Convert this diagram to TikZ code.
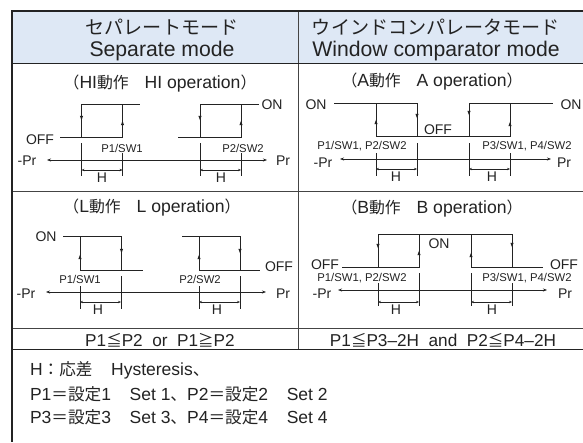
\documentclass[tikz,border=0pt]{standalone}
\usepackage{fontspec}
\setmainfont{Liberation Sans}
\newfontfamily\cjk[Scale=0.9]{Noto Sans CJK JP}
\newfontfamily\cjkn[Scale=0.95]{Noto Sans CJK JP}
\usetikzlibrary{arrows.meta}
\definecolor{ink}{RGB}{35,35,35}
\definecolor{headfill}{RGB}{222,232,245}
\newcommand{\J}[1]{{\cjk #1}}
\newcommand{\K}[1]{{\cjkn #1}}
\newcommand{\upm}[2]{\fill[ink] (#1-1.6,#2+2.2) -- (#1+1.6,#2+2.2) -- (#1,#2-2.2) -- cycle;}
\newcommand{\dnm}[2]{\fill[ink] (#1-1.6,#2-2.2) -- (#1+1.6,#2-2.2) -- (#1,#2+2.2) -- cycle;}
\newcommand{\dimH}[2]{\draw[dimline] (#1,#2) -- (#1+41,#2);}
\tikzset{
  x=1pt,y=-1pt,
  every node/.style={text=ink,inner sep=0pt,outer sep=0pt},
  frame/.style={draw=ink,line width=1.5pt},
  thin rule/.style={draw=ink!85,line width=1pt},
  wave/.style={draw=ink,line width=.85pt},
  axisline/.style={draw=ink,line width=.7pt,{Stealth[length=4pt,width=3pt]}-{Stealth[length=4pt,width=3pt]}},
  dimline/.style={draw=ink,line width=.55pt,{Stealth[length=3pt,width=2.4pt]}-{Stealth[length=3pt,width=2.4pt]}},
  tick/.style={draw=ink,line width=.85pt},
  headtext/.style={font=\fontsize{21.2}{22.5}\selectfont,align=center},
  optitle/.style={font=\fontsize{17.6}{19}\selectfont},
  lab/.style={font=\fontsize{14}{16}\selectfont},
  plab/.style={font=\fontsize{11.3}{13}\selectfont},
  cond/.style={font=\fontsize{17.2}{19}\selectfont},
  note/.style={font=\fontsize{17.5}{19}\selectfont,anchor=west},
}
\begin{document}
\begin{tikzpicture}
\useasboundingbox (0,0) rectangle (583,442);
\fill[white] (0,0) rectangle (583,442);
\fill[headfill] (12,11) rectangle (583,63);
% table rules
\draw[thin rule] (12,191.5) -- (583,191.5);
\draw[thin rule] (12,328) -- (583,328);
\draw[thin rule,line width=.8pt] (298,11) -- (298,349);
\draw[frame] (583,11) -- (12,11) -- (12,442);
\draw[frame] (12,63.5) -- (583,63.5);
\draw[frame,line width=1pt] (12,349.5) -- (583,349.5);
% headers
\node[headtext] (h1) at (162,40) {\J{セパレートモード}\\Separate mode};
\node[headtext] (h2) at (436,40) {\J{ウインドコンパレータモード}\\Window comparator mode};
% titles
\node[optitle] (t1) at (160,84) {\J{（}HI\J{動作　}HI operation\J{）}};
\node[optitle] (t2) at (432,82) {\J{（}A\J{動作　}A operation\J{）}};
\node[optitle] (t3) at (152,208) {\J{（}L\J{動作　}L operation\J{）}};
\node[optitle] (t4) at (432,209) {\J{（}B\J{動作　}B operation\J{）}};
% Panel HI
\draw[wave] (60,137) -- (122.5,137) -- (122.5,104.5) -- (140,104.5);
\draw[wave] (81.5,137) -- (81.5,104.5) -- (122.5,104.5);
\draw[wave] (178,137) -- (241,137) -- (241,104.5) -- (259,104.5);
\draw[wave] (200,137) -- (200,104.5) -- (241,104.5);
\dnm{81.5}{118}\upm{122.5}{123}\dnm{200}{118}\upm{241}{123}
\foreach \a/\b in {81.5/143,122.5/153,200/143,241/153} \draw[tick] (\a,\b) -- (\a,176);
\draw[axisline] (47,160) -- (267,160);
\dimH{81.5}{170}\dimH{200}{170}
\node[lab] (a1) at (40,140) {OFF};
\node[lab] (a2) at (272,105) {ON};
\node[lab] (a3) at (27,161) {-Pr};
\node[lab] (a4) at (283,161) {Pr};
\node[lab] (a5) at (102,177.5) {H};
\node[lab] (a6) at (221,177.5) {H};
\node[plab] (a7) at (122,148) {P1/SW1};
\node[plab] (a8) at (243,148) {P2/SW2};
% Panel A
\draw[wave] (334,103.5) -- (417,103.5) -- (417,136.5) -- (376,136.5) -- (376,103.5);
\draw[wave] (417,136.5) -- (469,136.5) -- (469,103.5) -- (553,103.5);
\draw[wave] (469,136.5) -- (510,136.5) -- (510,103.5);
\upm{376}{122}\dnm{417}{116}\dnm{469}{113}\upm{510}{124}
\foreach \a/\b in {376/153,417/143,469/143,510/153} \draw[tick] (\a,\b) -- (\a,176);
\draw[axisline] (340,159) -- (551,159);
\dimH{376}{169}\dimH{469}{169}
\node[lab] (b1) at (316,105) {ON};
\node[lab] (b2) at (571,105) {ON};
\node[lab] (b3) at (438,130) {OFF};
\node[lab] (b4) at (323,163) {-Pr};
\node[lab] (b5) at (564,163) {Pr};
\node[lab] (b6) at (396,176.5) {H};
\node[lab] (b7) at (492,176.5) {H};
\node[plab] (b8) at (362,146) {P1/SW1, P2/SW2};
\node[plab] (b9) at (527,146) {P3/SW1, P4/SW2};
% Panel L
\draw[wave] (63,236.5) -- (121.5,236.5) -- (121.5,270) -- (143,270);
\draw[wave] (80,236.5) -- (80,270) -- (121.5,270);
\draw[wave] (182,236.5) -- (240,236.5) -- (240,270) -- (260,270);
\draw[wave] (199,236.5) -- (199,270) -- (240,270);
\upm{80}{257}\dnm{121.5}{251}\upm{199}{257}\dnm{240}{251}
\foreach \a/\b in {80/286,121.5/276,199/286,240/276} \draw[tick] (\a,\b) -- (\a,309);
\draw[axisline] (46,292) -- (266,292);
\dimH{80}{302}\dimH{199}{302}
\node[lab] (c1) at (46,237) {ON};
\node[lab] (c2) at (279,267) {OFF};
\node[lab] (c3) at (26,294) {-Pr};
\node[lab] (c4) at (283,294) {Pr};
\node[lab] (c5) at (98,309.5) {H};
\node[lab] (c6) at (217,309.5) {H};
\node[plab] (c7) at (80,279) {P1/SW1};
\node[plab] (c8) at (200,279) {P2/SW2};
% Panel B
\draw[wave] (342,267) -- (419,267) -- (419,234.5) -- (378,234.5) -- (378,267);
\draw[wave] (419,234.5) -- (512,234.5) -- (512,267) -- (471,267) -- (471,234.5);
\draw[wave] (512,267) -- (543,267);
\dnm{378}{246}\upm{419}{253}\upm{471}{255}\dnm{512}{245}
\foreach \a/\b in {378/283,419/273,471/273,512/283} \draw[tick] (\a,\b) -- (\a,306);
\draw[axisline] (338,290) -- (547,290);
\dimH{378}{302}\dimH{471}{302}
\node[lab] (d1) at (439,244) {ON};
\node[lab] (d2) at (325,265) {OFF};
\node[lab] (d3) at (564,265) {OFF};
\node[lab] (d4) at (322,294) {-Pr};
\node[lab] (d5) at (565,294) {Pr};
\node[lab] (d6) at (396,309.5) {H};
\node[lab] (d7) at (492,309.5) {H};
\node[plab] (d8) at (362,278) {P1/SW1, P2/SW2};
\node[plab] (d9) at (527,278) {P3/SW1, P4/SW2};
% Conditions
\node[cond] (e1) at (160,340) {P1\J{≦}P2\ \ or\ \ P1\J{≧}P2};
\node[cond] (e2) at (443,340) {P1\J{≦}P3–2H\ \ and\ \ P2\J{≦}P4–2H};
% Notes
\node[note] (n1) at (30,370.5) {H\K{：応差　}\hspace{2pt}Hysteresis\K{、}};
\node[note] (n2) at (30,394.5) {P1\K{＝設定}1\K{　}\hspace{2pt}Set 1\K{、}P2\K{＝設定}2\K{　}\hspace{2pt}Set 2};
\node[note] (n3) at (30,417.5) {P3\K{＝設定}3\K{　}\hspace{2pt}Set 3\K{、}P4\K{＝設定}4\K{　}\hspace{2pt}Set 4};
\end{tikzpicture}
\end{document}
